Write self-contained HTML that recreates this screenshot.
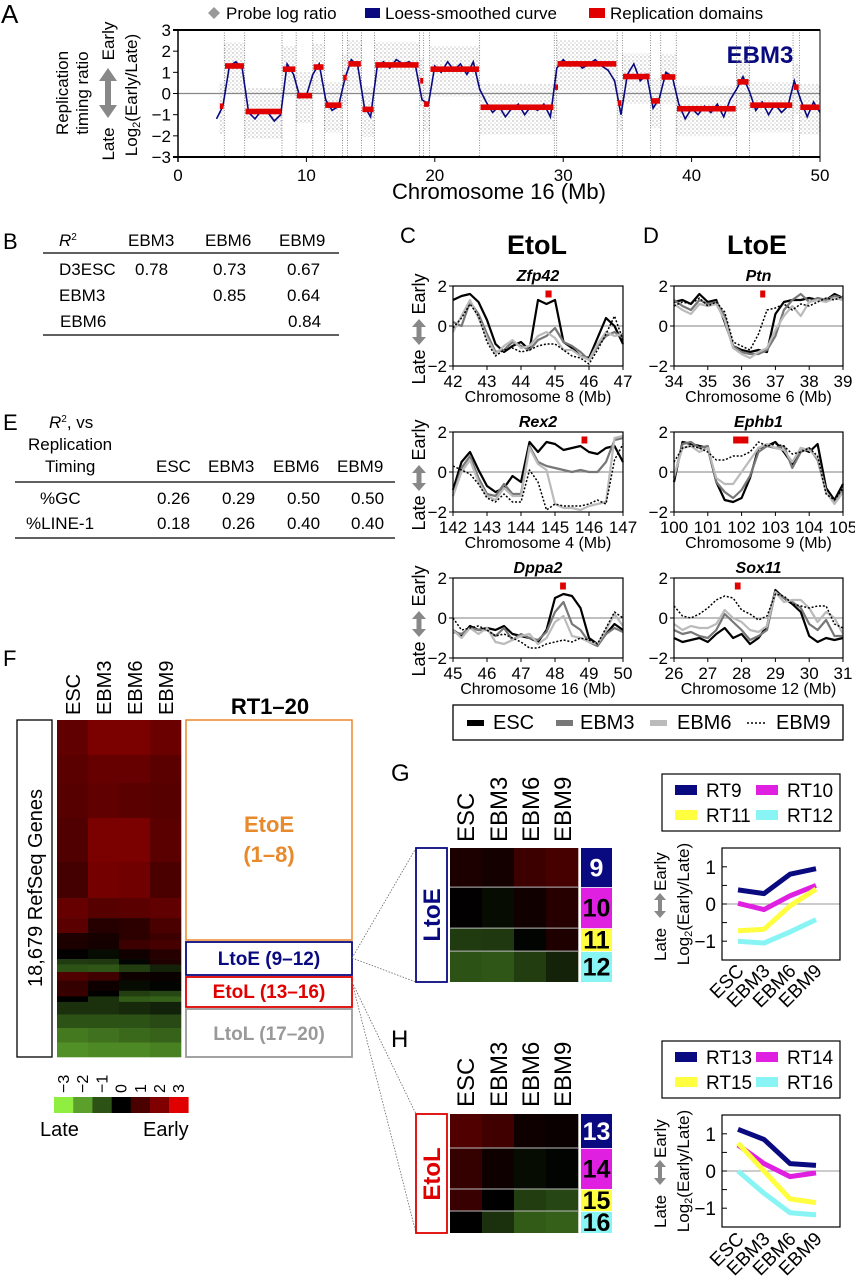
<!DOCTYPE html>
<html><head><meta charset="utf-8"><style>
html,body{margin:0;padding:0;background:#fff}
svg{display:block;font-family:"Liberation Sans",Arial,sans-serif}
</style></head><body>
<svg id="fig" xmlns="http://www.w3.org/2000/svg" width="855" height="1280" viewBox="0 0 855 1280">
<defs>
<pattern id="dots" width="4" height="4" patternUnits="userSpaceOnUse"><circle cx="1" cy="1" r="0.7" fill="#aaa"/><circle cx="3" cy="3" r="0.6" fill="#bbb"/></pattern>
</defs>
<g>
<text x="1" y="23" font-size="26">A</text>
<polygon points="214,7 220,13 214,19 208,13" fill="#999"/>
<text x="226" y="19" font-size="17">Probe log ratio</text>
<rect x="365" y="8" width="15" height="10" fill="#0a0a80"/>
<text x="385" y="19" font-size="17">Loess-smoothed curve</text>
<rect x="589" y="8" width="16" height="10" fill="#e00000"/>
<text x="610" y="19" font-size="17">Replication domains</text>
<text transform="translate(68,93) rotate(-90)" text-anchor="middle" font-size="17">Replication</text>
<text transform="translate(88,93) rotate(-90)" text-anchor="middle" font-size="17">timing ratio</text>
<text transform="translate(114,144) rotate(-90)" text-anchor="middle" font-size="17">Late</text>
<text transform="translate(114,41) rotate(-90)" text-anchor="middle" font-size="17">Early</text>
<g fill="#888"><polygon points="108,68 99,81 117,81"/><rect x="105" y="80" width="6" height="26"/><polygon points="108,118 99,105 117,105"/></g>
<text transform="translate(137,95) rotate(-90)" text-anchor="middle" font-size="17">Log<tspan font-size="11" dy="3">2</tspan><tspan dy="-3">(Early/Late)</tspan></text>
<text x="499" y="199" text-anchor="middle" font-size="22">Chromosome 16 (Mb)</text>
<text x="760" y="63" text-anchor="middle" font-size="24" font-weight="bold" fill="#0a0a80">EBM3</text>
</g>
<g id="gA"></g>

<g font-size="17">
<text x="3" y="249" font-size="22">B</text>
<text x="59" y="246" font-style="italic">R<tspan font-size="10" dy="-6" font-style="normal">2</tspan></text>
<text x="128" y="246">EBM3</text>
<text x="205" y="246">EBM6</text>
<text x="279" y="246">EBM9</text>
<line x1="43" y1="253" x2="339" y2="253" stroke="#000" stroke-width="1.3"/>
<text x="59" y="275">D3ESC</text>
<text x="135" y="275">0.78</text><text x="213" y="275">0.73</text><text x="287" y="275">0.67</text>
<text x="59" y="301">EBM3</text>
<text x="213" y="301">0.85</text><text x="287" y="301">0.64</text>
<text x="60" y="327">EBM6</text>
<text x="288" y="327">0.84</text>
<line x1="43" y1="335" x2="339" y2="335" stroke="#000" stroke-width="1.3"/>
</g>

<g font-size="17">
<text x="3" y="430" font-size="22">E</text>
<text x="49" y="428"><tspan font-style="italic">R</tspan><tspan font-size="10" dy="-6">2</tspan><tspan dy="6">, vs</tspan></text>
<text x="28" y="450">Replication</text>
<text x="45" y="472">Timing</text>
<text x="156" y="472">ESC</text><text x="208" y="472">EBM3</text><text x="273" y="472">EBM6</text><text x="337" y="472">EBM9</text>
<line x1="15" y1="482" x2="395" y2="482" stroke="#000" stroke-width="1.3"/>
<text x="40" y="504">%GC</text>
<text x="157" y="504">0.26</text><text x="222" y="504">0.29</text><text x="287" y="504">0.50</text><text x="351" y="504">0.50</text>
<text x="26" y="529">%LINE-1</text>
<text x="157" y="529">0.18</text><text x="222" y="529">0.26</text><text x="287" y="529">0.40</text><text x="351" y="529">0.40</text>
<line x1="15" y1="538" x2="395" y2="538" stroke="#000" stroke-width="1.3"/>
</g>

<text x="400" y="243" font-size="22">C</text>
<text x="537" y="254" text-anchor="middle" font-size="27" font-weight="bold">EtoL</text>
<text x="643" y="243" font-size="22">D</text>
<text x="757" y="254" text-anchor="middle" font-size="27" font-weight="bold">LtoE</text>
<g id="gCD"></g>
<g font-size="20">
<rect x="453" y="705" width="390" height="35" fill="none" stroke="#000" stroke-width="1.3"/>
<rect x="467" y="720" width="17" height="6" fill="#000"/><text x="493" y="729">ESC</text>
<rect x="556" y="720" width="17" height="6" fill="#777"/><text x="580" y="729">EBM3</text>
<rect x="650" y="720" width="17" height="6" fill="#bbb"/><text x="677" y="729">EBM6</text>
<line x1="747" y1="723" x2="766" y2="723" stroke="#000" stroke-width="1.6" stroke-dasharray="2,2"/><text x="776" y="729">EBM9</text>
</g>

<text x="3" y="666" font-size="22">F</text>
<g font-size="20">
<text transform="translate(80,715) rotate(-90)">ESC</text>
<text transform="translate(111,715) rotate(-90)">EBM3</text>
<text transform="translate(142,715) rotate(-90)">EBM6</text>
<text transform="translate(173,715) rotate(-90)">EBM9</text>
</g>
<rect x="17" y="720" width="35" height="337" fill="none" stroke="#000" stroke-width="1.3"/>
<text transform="translate(42,888) rotate(-90)" text-anchor="middle" font-size="20">18,679 RefSeq Genes</text>
<text x="270" y="714" text-anchor="middle" font-size="22" font-weight="bold">RT1–20</text>
<rect x="186" y="720" width="166" height="220" fill="none" stroke="#e8892b" stroke-width="1.5"/>
<text x="269" y="832" text-anchor="middle" font-size="22" font-weight="bold" fill="#e8892b">EtoE</text>
<text x="269" y="862" text-anchor="middle" font-size="22" font-weight="bold" fill="#e8892b">(1–8)</text>
<rect x="186" y="942" width="166" height="33" fill="none" stroke="#0a0a80" stroke-width="1.8"/>
<text x="269" y="965" text-anchor="middle" font-size="19" font-weight="bold" fill="#0a0a80">LtoE (9–12)</text>
<rect x="186" y="977" width="166" height="30" fill="none" stroke="#e00000" stroke-width="1.8"/>
<text x="269" y="998" text-anchor="middle" font-size="19" font-weight="bold" fill="#e00000">EtoL (13–16)</text>
<rect x="186" y="1009" width="166" height="48" fill="none" stroke="#999" stroke-width="1.8"/>
<text x="269" y="1040" text-anchor="middle" font-size="19" font-weight="bold" fill="#999">LtoL (17–20)</text>
<text x="40" y="1136" font-size="20">Late</text>
<text x="143" y="1136" font-size="20">Early</text>
<g id="gF"></g>

<g stroke="#666" stroke-width="0.8" stroke-dasharray="1.5,1.5">
<line x1="352" y1="958" x2="416" y2="848"/><line x1="352" y1="958" x2="416" y2="982"/>
<line x1="352" y1="982" x2="416" y2="1114"/><line x1="352" y1="982" x2="416" y2="1233"/>
</g>

<text x="391" y="781" font-size="24">G</text>
<text x="391" y="1047" font-size="24">H</text>
<g font-size="24">
<text transform="translate(474,842) rotate(-90)">ESC</text><text transform="translate(507,842) rotate(-90)">EBM3</text>
<text transform="translate(539,842) rotate(-90)">EBM6</text><text transform="translate(571,842) rotate(-90)">EBM9</text>
</g>
<g font-size="24">
<text transform="translate(474,1107) rotate(-90)">ESC</text><text transform="translate(507,1107) rotate(-90)">EBM3</text>
<text transform="translate(539,1107) rotate(-90)">EBM6</text><text transform="translate(571,1107) rotate(-90)">EBM9</text>
</g>
<rect x="416" y="848" width="31" height="134" fill="#fff" stroke="#0a0a80" stroke-width="1.8"/>
<text transform="translate(440,915) rotate(-90)" text-anchor="middle" font-size="24" font-weight="bold" fill="#0a0a80">LtoE</text>
<rect x="416" y="1114" width="31" height="119" fill="#fff" stroke="#e00000" stroke-width="1.8"/>
<text transform="translate(440,1174) rotate(-90)" text-anchor="middle" font-size="24" font-weight="bold" fill="#e00000">EtoL</text>
<g id="gGH"></g>
</svg>

<script>
const NS='http://www.w3.org/2000/svg';
// ---------- Panel A data ----------
const domStart=[3.2,3.6,5.2,8.1,9.2,10.5,11.4,12.8,13.2,14.3,15.3,18.8,19.1,19.6,23.5,29.3,29.5,34.2,34.6,36.8,37.6,38.8,43.5,44.5,47.9,48.4];
const domEnd=[3.6,5.2,8.1,9.2,10.5,11.4,12.8,13.2,14.3,15.3,18.8,19.1,19.6,23.5,29.3,29.5,34.2,34.6,36.8,37.6,38.8,43.5,44.5,47.9,48.4,50];
const domVal=[-0.6,1.3,-0.85,1.15,-0.1,1.25,-0.55,0.75,1.4,-0.75,1.35,0.6,-0.5,1.15,-0.65,0.3,1.4,-0.45,0.8,-0.35,0.78,-0.72,0.55,-0.55,0.3,-0.65];
const loessStart=3, loessStep=0.5;
const loessVal=[-1.2,-0.6,1.3,1.5,1.2,-0.9,-1.2,-0.8,-0.9,-1.3,-1.0,1.4,0.9,-0.2,-0.1,0.9,1.4,-0.3,-0.8,-0.6,0.7,1.6,1.3,-0.6,-1.1,1.2,1.5,1.2,1.6,1.4,1.5,1.3,-0.3,-0.5,1.3,1.0,1.5,1.1,1.4,0.9,1.5,0.2,-0.4,-0.9,-0.6,-1.1,-0.7,-0.5,-1.0,-0.6,-0.8,-0.5,-1.1,1.2,1.6,1.3,1.5,1.2,1.4,1.6,1.3,1.1,0.6,-1.0,0.9,1.4,0.6,0.9,-0.7,-0.2,1.0,0.8,-0.5,-1.2,-0.7,-1.0,-0.6,-0.9,-0.5,-1.1,-0.3,0.2,0.8,0.1,-0.8,-0.4,-1.0,-0.5,-0.9,-0.6,0.6,-0.3,-1.1,-0.4,-0.9];
const aXTicks=[0,10,20,30,40,50];
const aYTicks=[3,2,1,0,-1,-2,-3];

// ---------- Panels C/D data ----------
const zfpESC=[1.3,1.5,1.6,1.2,0.3,-0.9,-1.3,-1.0,-0.8,-1.2,1.3,1.1,1.3,-0.8,-1.1,-1.5,-1.6,-0.6,0.4,0.0,-0.9];
const zfpEBM3=[0.2,0.0,1.2,0.6,-0.4,-1.3,-1.2,-0.8,-1.0,-1.2,-0.7,-0.5,-0.1,-0.8,-1.0,-1.3,-1.7,-1.0,-0.5,-0.3,-0.6];
const zfpEBM6=[-0.3,0.5,1.3,0.4,-0.6,-1.4,-1.0,-0.7,-1.1,-1.0,-0.5,-0.3,-0.6,-1.2,-1.2,-1.5,-1.7,-0.9,-0.3,-0.5,-0.4];
const zfpEBM9=[-0.1,0.4,1.1,0.5,-0.8,-1.5,-1.2,-1.1,-1.3,-1.2,-1.0,-0.9,-0.9,-1.2,-1.5,-1.6,-1.9,-1.2,-0.4,0.5,-0.7];
const rexESC=[-0.9,0.5,1.0,0.1,-0.7,-1.0,-0.8,-0.2,-0.5,1.5,1.0,1.5,1.4,1.1,1.2,1.3,1.0,0.9,1.2,1.3,0.5];
const rexEBM3=[-1.2,0.2,0.8,-0.3,-1.1,-1.2,-0.6,-1.1,-1.1,1.3,0.5,0.3,0.2,0.1,0.0,0.1,0.0,0.0,0.5,1.6,1.7];
const rexEBM6=[-1.2,0.0,0.6,-0.5,-1.2,-1.4,-0.8,-1.2,-1.2,1.2,0.4,0.1,-1.6,-1.8,-1.8,-1.9,-1.7,-1.6,-1.5,1.7,1.8];
const rexEBM9=[0.3,0.1,-0.1,-0.6,-1.3,-1.5,-1.1,-1.5,-1.5,0.1,-0.5,-1.9,-1.6,-1.7,-1.7,-1.7,-1.6,-1.4,-1.6,0.6,1.4];
const dppESC=[-0.6,-0.9,-0.4,-0.6,-0.5,-0.6,-0.4,-0.8,-0.9,-1.0,-1.2,-0.6,1.0,1.2,1.1,0.5,-1.0,-1.3,-0.8,-0.3,-0.6];
const dppEBM3=[-0.7,-0.8,-0.5,-0.6,-0.6,-0.9,-0.5,-1.1,-0.8,-1.0,-1.1,-0.7,0.3,0.8,-0.3,-0.6,-1.2,-1.4,-0.8,-0.5,-0.7];
const dppEBM6=[-0.6,-1.0,-0.5,-0.8,-0.5,-1.2,-1.3,-1.1,-0.9,-0.8,-1.3,-1.0,-0.2,0.1,-0.9,-1.0,-1.2,-1.3,-0.6,0.2,-0.4];
const dppEBM9=[0.0,-0.6,-0.5,-0.4,-0.6,-0.9,-0.8,-1.0,-1.2,-1.5,-1.5,-1.3,-1.2,-1.1,-1.2,-1.0,-1.1,-1.3,-0.5,0.3,0.0];
const ptnESC=[1.2,1.3,1.1,1.6,1.2,1.3,0.2,-1.0,-1.2,-1.3,-1.2,-1.3,0.6,1.2,1.3,1.3,1.4,1.3,1.3,1.6,1.4];
const ptnEBM3=[1.3,1.0,0.8,1.3,1.1,1.2,0.5,-1.0,-1.3,-1.4,-1.4,-1.2,-0.5,0.8,1.3,1.6,1.2,1.4,1.3,1.5,1.4];
const ptnEBM6=[1.1,0.8,0.6,1.1,1.0,1.1,0.3,-1.1,-1.4,-1.6,-1.3,-1.1,-0.2,0.5,1.0,0.5,1.2,1.3,1.2,1.4,1.3];
const ptnEBM9=[1.0,1.2,1.1,1.4,1.0,1.2,0.7,-0.8,-1.0,-1.2,-0.4,0.8,0.9,1.1,0.8,1.1,1.0,1.2,1.4,1.3,1.5];
const ephESC=[-0.5,1.5,1.4,1.3,1.2,-0.5,-1.4,-1.5,-1.3,-0.3,1.2,1.3,1.5,1.0,0.4,1.2,1.0,1.4,-0.8,-1.4,-0.6];
const ephEBM3=[-0.3,1.4,1.5,1.2,1.3,-0.5,-1.0,-1.3,-0.9,-0.2,1.0,1.3,1.2,1.3,0.2,1.0,1.2,0.6,-1.0,-1.5,-0.9];
const ephEBM6=[-0.2,1.2,1.3,1.0,1.2,-0.3,-0.6,-0.6,0.0,0.6,1.2,1.4,1.2,1.1,0.5,1.2,1.1,0.7,-1.0,-1.6,-1.0];
const ephEBM9=[0.5,1.2,1.3,1.2,1.0,0.6,0.6,0.8,0.8,1.0,1.5,1.3,1.4,1.3,0.9,1.0,1.2,0.8,-1.1,-1.4,-0.8];
const soxESC=[-1.0,-1.2,-1.1,-1.0,-1.2,-0.8,-0.5,-1.0,-0.8,-1.3,-1.0,-0.4,1.4,1.0,0.7,0.3,-0.9,-1.2,-1.0,-1.1,-1.0];
const soxEBM3=[-0.6,-0.8,-0.7,-0.9,-1.0,-0.6,0.2,-0.2,-0.6,-1.1,-0.9,-0.6,1.3,1.0,0.8,0.5,-0.3,-0.6,-0.1,-0.9,-0.9];
const soxEBM6=[-0.3,-0.6,-0.4,-0.5,-0.5,-0.3,0.4,0.0,-0.2,-0.6,-0.7,-0.4,1.3,0.8,0.9,0.9,0.5,-0.2,0.3,0.0,-0.8];
const soxEBM9=[0.6,0.1,0.0,0.2,0.5,0.9,1.1,1.0,0.4,0.2,-0.1,0.1,1.2,1.1,0.7,0.6,0.5,0.6,0.6,-0.3,-0.5];
const geneNames=['Zfp42','Rex2','Dppa2','Ptn','Ephb1','Sox11'];
const geneChrom=['8','4','16','6','9','12'];
const geneXMin=[42,142,45,34,100,26];
const geneMarkStart=[44.72,145.78,48.15,36.55,101.75,27.8];
const geneMarkEnd=[44.9,145.95,48.32,36.7,102.2,27.97];
const cdSampleStep=0.25;

// ---------- Heatmap / RT data ----------
const rtCounts=[1940,1550,1940,2440,2000,1110,830,380, 520,545,305,410, 474,572,307,307, 700,750,800,804];
const rtESC =[1.4,1.3,1.2,1.1,0.9,1.5,1.3,0.4, 0.38,0.02,-0.72,-1.0, 1.12,0.7,0.75,0.0, -0.6,-1.0,-1.5,-1.8];
const rtEBM3=[1.9,1.5,1.4,1.9,1.8,1.2,0.5,0.3, 0.28,-0.15,-0.68,-1.05, 0.85,0.2,0.0,-0.6, -0.6,-1.0,-1.4,-1.7];
const rtEBM6=[1.9,1.5,1.3,1.9,1.7,1.3,0.6,0.6, 0.8,0.22,-0.05,-0.75, 0.2,-0.15,-0.75,-1.12, -0.5,-1.0,-1.3,-1.7];
const rtEBM9=[1.6,1.3,1.2,1.3,1.0,1.4,1.0,0.8, 0.95,0.5,0.4,-0.42, 0.15,-0.05,-0.85,-1.18, -0.4,-0.9,-1.2,-1.6];
const sampleNames=['ESC','EBM3','EBM6','EBM9'];
const cbTicks=[-3,-2,-1,0,1,2,3];
const rtLineColors=['#0a0a80','#e020e0','#ffff40','#88f4f4'];

function mk(tag,attrs,parent){const e=document.createElementNS(NS,tag);for(const k in attrs)e.setAttribute(k,attrs[k]);parent.appendChild(e);return e;}
function tx(x,y,s,attrs,parent){const e=mk('text',Object.assign({x:x,y:y},attrs),parent);e.textContent=s;return e;}

// ---------- Panel A ----------
(function(){
 const g=document.getElementById('gA');
 const L=178,R=820,T=30,B=157;
 const xA=mb=>L+mb*(R-L)/50;
 const yA=v=>(T+B)/2-v*(B-T)/6;
 for(let i=0;i<domStart.length;i++){
  const hi=Math.min(3,domVal[i]+1.1), lo=Math.max(-3,domVal[i]-1.3);
  const r=mk('rect',{x:xA(domStart[i]),y:yA(hi),width:xA(domEnd[i])-xA(domStart[i]),height:yA(lo)-yA(hi),fill:'url(#dots)'},g);
  
  
 }
 const z=mk('line',{x1:L,y1:yA(0),x2:R,y2:yA(0),stroke:'#888','stroke-width':1.3},g);
 
 
 for(let i=1;i<domStart.length;i++){
  const l=mk('line',{x1:xA(domStart[i]),y1:T,x2:xA(domStart[i]),y2:B,stroke:'#444','stroke-width':0.6,'stroke-dasharray':'1,1.5'},g);
  
  
 }
 let d='';
 loessVal.forEach((v,i)=>{d+=(i?'L':'M')+xA(loessStart+i*loessStep).toFixed(1)+','+yA(v).toFixed(1);});
 const p=mk('path',{d:d,fill:'none',stroke:'#0a0a80','stroke-width':1.6},g);
 
 
 for(let i=0;i<domStart.length;i++){
  const r=mk('rect',{x:xA(domStart[i])+0.8,y:yA(domVal[i])-2.8,width:Math.max(3,xA(domEnd[i])-xA(domStart[i])-1.6),height:5.6,fill:'#e00000'},g);
  
  
 }
 const bx=mk('rect',{x:L,y:T,width:R-L,height:B-T,fill:'none',stroke:'#000','stroke-width':1},g);
 
 
 mk('line',{x1:L-5,y1:T,x2:R,y2:T,stroke:'#000','stroke-width':2},g);
 mk('line',{x1:L-5,y1:B,x2:R,y2:B,stroke:'#000','stroke-width':2},g);
 mk('line',{x1:L,y1:T,x2:L,y2:B+5,stroke:'#000','stroke-width':1.5},g);
 aYTicks.forEach(v=>{
  mk('line',{x1:L-5,y1:yA(v),x2:L,y2:yA(v),stroke:'#000'},g);
  const t=tx(L-7,yA(v)+6,v<0?'−'+(-v):String(v),{'text-anchor':'end','font-size':17},g);
  
  
 });
 aXTicks.forEach(v=>{
  mk('line',{x1:xA(v),y1:B,x2:xA(v),y2:B+5,stroke:'#000'},g);
  const t=tx(xA(v),B+24,String(v),{'text-anchor':'middle','font-size':17},g);
  
  
 });
})();

// ---------- Panels C/D ----------
(function(){
 const g=document.getElementById('gCD');
 const series=[[zfpESC,zfpEBM3,zfpEBM6,zfpEBM9],[rexESC,rexEBM3,rexEBM6,rexEBM9],[dppESC,dppEBM3,dppEBM6,dppEBM9],[ptnESC,ptnEBM3,ptnEBM6,ptnEBM9],[ephESC,ephEBM3,ephEBM6,ephEBM9],[soxESC,soxEBM3,soxEBM6,soxEBM9]];
 const styles=[{stroke:'#000','stroke-width':2.2},{stroke:'#777','stroke-width':2.2},{stroke:'#bbb','stroke-width':2.2},{stroke:'#000','stroke-width':1.5,'stroke-dasharray':'2,1.8'}];
 const tops=[286,432,578];
 for(let k=0;k<6;k++){
  const col=k<3?0:1, row=k%3;
  const x0=col?674:453, x1=col?843:623, top=tops[row], bot=top+80;
  const xm=geneXMin[k];
  const xS=mb=>x0+(mb-xm)/5*(x1-x0);
  const yS=v=>top+40-v*20;
  const pg=mk('g',{},g);
  
  
  const t=tx((x0+x1)/2,top-5,geneNames[k],{'text-anchor':'middle','font-size':16,'font-weight':'bold','font-style':'italic'},pg);
  
  
  mk('line',{x1:x0,y1:yS(0),x2:x1,y2:yS(0),stroke:'#999','stroke-width':1.2},pg);
  series[k].forEach((arr,s)=>{
   let d='';arr.forEach((v,i)=>{d+=(i?'L':'M')+xS(xm+i*cdSampleStep).toFixed(1)+','+yS(v).toFixed(1);});
   const p=mk('path',Object.assign({d:d,fill:'none','stroke-linejoin':'round'},styles[s]),pg);
   
   
  });
  const m=mk('rect',{x:xS(geneMarkStart[k]),y:yS(1.6)-3.5,width:xS(geneMarkEnd[k])-xS(geneMarkStart[k]),height:7,fill:'#e00000'},pg);
  
  
  mk('rect',{x:x0,y:top,width:x1-x0,height:80,fill:'none',stroke:'#000','stroke-width':1.2},pg);
  [2,0,-2].forEach(v=>{
   mk('line',{x1:x0-4,y1:yS(v),x2:x0,y2:yS(v),stroke:'#000'},pg);
   const yt=tx(x0-6,yS(v)+6,v<0?'−2':String(v),{'text-anchor':'end','font-size':17},pg);
   
   
  });
  for(let i=0;i<=5;i++){
   mk('line',{x1:xS(xm+i),y1:bot,x2:xS(xm+i),y2:bot+4,stroke:'#000'},pg);
   const xt=tx(xS(xm+i),bot+21,String(xm+i),{'text-anchor':'middle','font-size':17},pg);
   
   
  }
  const xt=tx((x0+x1)/2,bot+36,'Chromosome '+geneChrom[k]+' (Mb)',{'text-anchor':'middle','font-size':16},pg);
  
  
  if(col===0){
   const yl=tx(0,0,'Late',{transform:'translate(425,'+(top+81)+') rotate(-90)','text-anchor':'middle','font-size':18},pg);
   
   
   const ye=tx(0,0,'Early',{transform:'translate(425,'+(top+8)+') rotate(-90)','text-anchor':'middle','font-size':18},pg);
   
   
   const c=419, cy=top+46;
   mk('polygon',{points:`${c},${cy-13} ${c-7},${cy-5} ${c+7},${cy-5}`,fill:'#888'},pg);
   mk('rect',{x:c-2.5,y:cy-6,width:5,height:12,fill:'#888'},pg);
   mk('polygon',{points:`${c},${cy+13} ${c-7},${cy+5} ${c+7},${cy+5}`,fill:'#888'},pg);
  }
 }
})();

// ---------- colour scale ----------
const cStops=[[144,238,64],[90,160,42],[45,82,22],[0,0,0],[75,0,0],[128,0,0],[224,0,0]];
function colorFor(v){
 v=Math.max(-3,Math.min(3,v));const f=v+3,i=Math.min(5,Math.floor(f)),t=f-i;
 const a=cStops[i],b=cStops[i+1];
 return 'rgb('+a.map((c,j)=>Math.round(c+(b[j]-c)*t)).join(',')+')';
}
const rtCols=[rtESC,rtEBM3,rtEBM6,rtEBM9];

// ---------- Panel F ----------
(function(){
 const g=document.getElementById('gF');
 const total=rtCounts.reduce((a,b)=>a+b,0);
 const top=720,h=337,x0=57,cw=31;
 let cum=0;
 rtCounts.forEach((n,k)=>{
  const y=top+cum/total*h, hh=n/total*h;
  for(let c=0;c<4;c++){
   const r=mk('rect',{x:x0+c*cw,y:y.toFixed(2),width:cw+0.3,height:(hh+0.3).toFixed(2),fill:colorFor(rtCols[c][k])},g);
   
   
  }
  cum+=n;
 });
 cbTicks.forEach((v,i)=>{
  const r=mk('rect',{x:54+i*19.2,y:1097,width:19.4,height:16,fill:colorFor(v)},g);
  
  
  const t=tx(0,0,v<0?'−'+(-v):String(v),{transform:'translate('+(54+i*19.2+15)+',1093) rotate(-90)','font-size':16},g);
  
  
 });
})();

// ---------- Panels G/H ----------
(function(){
 const g=document.getElementById('gGH');
 const panels=[{first:8,hmTop:848,hmBot:982,legTop:774,y0:904,boxTop:848,boxBot:960,rotY:972},
               {first:12,hmTop:1114,hmBot:1233,legTop:1041,y0:1171,boxTop:1115,boxBot:1227,rotY:1240}];
 const cx=i=>738+i*26;
 panels.forEach(P=>{
  const idx=[P.first,P.first+1,P.first+2,P.first+3];
  const tot=idx.reduce((a,k)=>a+rtCounts[k],0);
  let cum=0;
  idx.forEach((k,j)=>{
   const y=P.hmTop+cum/tot*(P.hmBot-P.hmTop), hh=rtCounts[k]/tot*(P.hmBot-P.hmTop);
   for(let c=0;c<4;c++){
    const r=mk('rect',{x:450+c*32,y:y,width:32.3,height:hh,fill:colorFor(rtCols[c][k])},g);
    
    
   }
   if(j>0) mk('line',{x1:450,y1:y,x2:578,y2:y,stroke:'#bbb','stroke-width':1},g);
   const nb=mk('rect',{x:581,y:y+(j?0.8:0),width:31,height:hh-(j?0.8:0),fill:rtLineColors[j]},g);
   
   
   const nt=tx(596.5,y+hh/2+9,String(k+1),{'text-anchor':'middle','font-size':25,'font-weight':'bold',fill:j===0?'#fff':'#000'},g);
   
   
   cum+=rtCounts[k];
  });
  const lb=mk('rect',{x:662,y:P.legTop,width:178,height:57,fill:'none',stroke:'#000','stroke-width':1.2},g);
  
  
  idx.forEach((k,j)=>{
   const lx=j%2?756:675, ly=P.legTop+(j<2?16:41);
   mk('rect',{x:lx,y:ly-5,width:22,height:10,fill:rtLineColors[j]},g);
   const t=tx(lx+31,ly+7,'RT'+(k+1),{'font-size':19},g);
   
   
  });
  const yS=v=>P.y0-v*37.2;
  mk('line',{x1:722,y1:P.y0,x2:840,y2:P.y0,stroke:'#999','stroke-width':1},g);
  idx.forEach((k,j)=>{
   let d='';for(let c=0;c<4;c++)d+=(c?'L':'M')+cx(c)+','+yS(rtCols[c][k]).toFixed(1);
   const p=mk('path',{d:d,fill:'none',stroke:rtLineColors[j],'stroke-width':5,'stroke-linejoin':'round'},g);
   
   
  });
  mk('rect',{x:722,y:P.boxTop,width:118,height:P.boxBot-P.boxTop,fill:'none',stroke:'#000','stroke-width':1.2},g);
  [1,0.5,0,-0.5,-1].forEach(v=>{
   mk('line',{x1:722,y1:yS(v),x2:727,y2:yS(v),stroke:'#000'},g);
   if(v%1===0){const t=tx(716,yS(v)+7,v<0?'−1':String(v),{'text-anchor':'end','font-size':19},g);
    
    }
  });
  sampleNames.forEach((s,i)=>{
   const t=tx(0,0,s,{transform:'translate('+(cx(i)+7)+','+P.rotY+') rotate(-45)','text-anchor':'end','font-size':19},g);
   
   
  });
  const yc=(P.boxTop+P.boxBot)/2;
  const a1=tx(0,0,'Late',{transform:'translate(666,'+(yc+57)+') rotate(-90)','font-size':17},g);
  
  
  const a2=tx(0,0,'Early',{transform:'translate(666,'+(yc-13)+') rotate(-90)','font-size':17},g);
  
  
  mk('polygon',{points:`660,${yc-11} 654,${yc-4} 666,${yc-4}`,fill:'#888'},g);
  mk('rect',{x:658,y:yc-5,width:4,height:12,fill:'#888'},g);
  mk('polygon',{points:`660,${yc+14} 654,${yc+7} 666,${yc+7}`,fill:'#888'},g);
  const lg=mk('text',{transform:'translate(689,'+yc+') rotate(-90)','text-anchor':'middle','font-size':17},g);
  
  
  const t1=mk('tspan',{},lg);t1.textContent='Log';
  const t2=mk('tspan',{'font-size':11,dy:3},lg);t2.textContent='2';
  const t3=mk('tspan',{dy:-3},lg);t3.textContent='(Early/Late)';
 });
})();
</script>
</body></html>
